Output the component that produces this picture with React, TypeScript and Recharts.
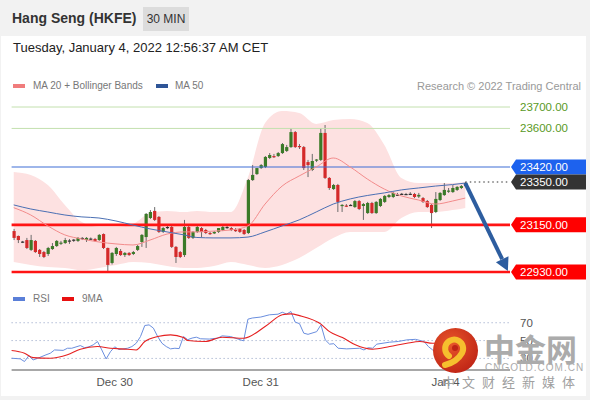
import React from 'react';
import { ComposedChart, Bar, Line, Area, XAxis, YAxis, ReferenceLine } from 'recharts';

// 30 min candles, Dec 29 night -> Jan 4
const OPEN = [
  23121, 23098, 23072, 23079, 23033, 23075, 23033, 23023, 23014, 23037, 23051, 23063, 23065, 23077, 23079, 23075, 23087, 23079, 23086, 23084, 23079, 23107, 23042, 22972, 23014, 23028, 23009,
  23019, 23014, 23033, 23070, 23093, 23182, 23215, 23187, 23117, 23137, 23140, 23047, 23023, 23009, 23140, 23089, 23117, 23135, 23126, 23112, 23110, 23117, 23126, 23140, 23135, 23126, 23131, 23126, 23112,
  23359, 23387, 23415, 23420, 23462, 23471, 23471, 23485, 23495,
  23513, 23583, 23518, 23513, 23443, 23406, 23450, 23453, 23579, 23369, 23317, 23336, 23238, 23240, 23243, 23233, 23261,
  23238, 23205, 23252, 23205, 23238, 23257, 23280, 23280, 23291, 23292, 23294, 23293, 23294, 23282, 23275, 23261, 23243, 23210, 23266, 23289, 23305, 23303, 23313, 23322, 23331,
];
const HIGH = [
  23131, 23100, 23075, 23089, 23103, 23079, 23037, 23028, 23047, 23065, 23079, 23075, 23089, 23084, 23084, 23093, 23093, 23093, 23091, 23089, 23107, 23110, 23044, 23023, 23047, 23037, 23023,
  23023, 23028, 23056, 23107, 23205, 23219, 23233, 23191, 23140, 23145, 23145, 23051, 23028, 23173, 23145, 23121, 23149, 23140, 23131, 23117, 23121, 23135, 23145, 23145, 23140, 23135, 23135, 23131, 23364,
  23429, 23415, 23434, 23471, 23485, 23481, 23490, 23532, 23523,
  23602, 23588, 23527, 23518, 23453, 23481, 23457, 23602, 23616, 23373, 23341, 23341, 23247, 23247, 23247, 23266, 23266,
  23252, 23257, 23257, 23261, 23275, 23289, 23294, 23303, 23299, 23299, 23299, 23303, 23299, 23299, 23280, 23266, 23247, 23303, 23303, 23345, 23322, 23336, 23331, 23336, 23350,
];
const LOW = [
  23079, 23065, 23065, 23037, 23028, 23019, 23000, 22995, 23005, 23033, 23047, 23056, 23061, 23061, 23070, 23070, 23079, 23070, 23079, 23072, 23075, 23037, 22930, 22965, 23005, 23005, 23000,
  23005, 23009, 23028, 23047, 23042, 23177, 23168, 23112, 23112, 23130, 23042, 22972, 22995, 23000, 23084, 23084, 23112, 23093, 23107, 23103, 23107, 23112, 23121, 23131, 23121, 23117, 23112, 23103, 23107,
  23355, 23383, 23411, 23415, 23457, 23462, 23467, 23481, 23490,
  23509, 23509, 23504, 23406, 23373, 23401, 23443, 23448, 23364, 23313, 23313, 23210, 23210, 23233, 23238, 23229, 23219,
  23173, 23201, 23201, 23201, 23233, 23252, 23275, 23275, 23285, 23289, 23289, 23289, 23275, 23275, 23252, 23229, 23135, 23205, 23261, 23285, 23299, 23299, 23308, 23317, 23327,
];
const CLOSE = [
  23089, 23079, 23070, 23042, 23079, 23023, 23014, 23000, 23042, 23051, 23075, 23067, 23079, 23075, 23081, 23089, 23089, 23089, 23084, 23075, 23103, 23042, 22963, 23019, 23042, 23009, 23019,
  23009, 23023, 23051, 23103, 23201, 23210, 23173, 23117, 23135, 23140, 23047, 23000, 23000, 23140, 23089, 23117, 23140, 23117, 23112, 23107, 23117, 23135, 23140, 23137, 23126, 23121, 23117, 23107, 23359,
  23383, 23415, 23429, 23467, 23476, 23467, 23485, 23527, 23513,
  23583, 23513, 23513, 23415, 23429, 23448, 23455, 23579, 23369, 23322, 23336, 23257, 23243, 23236, 23241, 23261, 23224,
  23247, 23252, 23205, 23257, 23271, 23285, 23289, 23299, 23289, 23295, 23292, 23295, 23280, 23290, 23257, 23233, 23205, 23271, 23299, 23313, 23310, 23322, 23327, 23331, 23345,
];

// moving averages / bollinger, read at these candle positions
const MA_IDX = [0, 4, 8, 12, 16, 20, 24, 28, 32, 36, 40, 43, 47, 51, 55, 59, 63, 67, 71, 75, 79, 83, 87, 91, 95, 99, 103, 106];
const MA20 = [23230, 23196, 23145, 23103, 23084, 23070, 23061, 23056, 23079, 23107, 23117, 23117, 23121, 23126, 23145, 23247, 23331, 23378, 23420, 23462, 23420, 23364, 23317, 23285, 23266, 23247, 23261, 23275];
const MA50 = [23243, 23224, 23210, 23196, 23187, 23182, 23168, 23149, 23131, 23117, 23103, 23091, 23089, 23089, 23093, 23117, 23145, 23173, 23210, 23247, 23271, 23287, 23299, 23313, 23322, 23331, 23338, 23345];
const BB_UP = [23397, 23383, 23336, 23243, 23163, 23140, 23140, 23154, 23205, 23215, 23210, 23215, 23210, 23210, 23373, 23625, 23681, 23672, 23621, 23639, 23644, 23625, 23523, 23369, 23345, 23345, 23345, 23350];
const BB_LO = [22977, 22963, 22953, 22949, 22939, 22949, 22963, 22977, 22972, 22958, 22949, 22949, 22958, 22977, 22963, 22949, 22963, 22995, 23042, 23089, 23117, 23117, 23117, 23182, 23210, 23210, 23219, 23229];

const RSI_IDX = [0, 2, 3, 4, 5, 6, 8, 9, 10, 12, 13, 14, 16, 17, 18, 19, 20, 21, 22, 23, 24, 25, 27, 28, 29, 30, 31, 32, 33, 34, 35, 36, 37, 38, 39, 40, 41, 42, 43, 44, 46, 48, 49, 51, 52, 54, 55, 56, 58, 60, 62, 63, 64, 65, 66, 67, 68, 69, 71, 72, 73, 74, 75, 76, 78, 81, 82, 83, 84, 85, 88, 90, 92, 94, 96, 97, 98, 99, 100, 101, 102, 104, 106];
const RSI = [30.2, 29.5, 26.5, 33, 28.3, 30, 34, 35.8, 39.5, 39, 41.4, 41.4, 44.4, 42, 43, 45.2, 48.9, 39.5, 29.4, 37.5, 43, 40, 41.4, 43.3, 47, 54.5, 66.9, 67.6, 64, 54.5, 47, 43.3, 40.7, 41.4, 41, 54.5, 51, 52.8, 53.8, 52, 51.7, 52.8, 55.3, 54.5, 52.8, 49.7, 74, 75.3, 76.4, 78.9, 79.6, 81.8, 79.7, 82.6, 70.7, 69, 58.3, 57, 60, 67.6, 50.8, 46, 46.5, 41.4, 40.7, 41.4, 39.5, 42, 41.4, 46, 48.2, 49, 50.8, 51.4, 49, 43.3, 39.5, 36, 47, 52, 55, 57, 60];
const MA9_IDX = [0, 3, 5, 9, 13, 16, 20, 23, 27, 29, 31, 34, 37, 40, 41, 45, 49, 54, 59, 63, 65, 67, 72, 74, 77, 80, 84, 88, 92, 95, 98, 102, 106];
const MA9 = [38.8, 35.8, 30.9, 30.2, 34, 40.3, 43.3, 41.4, 40.3, 39.5, 48.9, 54.5, 56.4, 53.4, 50, 48.9, 53.8, 52.6, 65.7, 78.9, 80, 78, 68.4, 60, 53.4, 45.2, 40.3, 43.3, 47, 48.9, 47, 49, 52];

const TICK_IDX = [24, 58, 101];
const TICK_LABELS = ['Dec 30', 'Dec 31', 'Jan 4'];

const LEVELS = [23700, 23600];
const RESIST = 23420;
const LAST = 23350;
const SUPPORTS = [23150, 22930];
const RSI_LEVELS = [70, 50, 30];

const SLOTS = 117;
const FONT = "'Liberation Sans', Arial, Helvetica, sans-serif";

const rows: any[] = Array.from({ length: SLOTS }, (_, i) => ({
  i,
  o: OPEN[i] ?? null,
  h: HIGH[i] ?? null,
  l: LOW[i] ?? null,
  c: CLOSE[i] ?? null,
}));
MA_IDX.forEach((idx, k) => {
  rows[idx].ma20 = MA20[k];
  rows[idx].ma50 = MA50[k];
  rows[idx].bu = BB_UP[k];
  rows[idx].bl = BB_LO[k];
});
RSI_IDX.forEach((idx, k) => { rows[idx].rsi = RSI[k]; });
MA9_IDX.forEach((idx, k) => { rows[idx].ma9 = MA9[k]; });

function Candle(props: any) {
  let { x, y, width, height } = props;
  const p = props.payload;
  if (!p || p.o == null) return null;
  if (height < 0) { y += height; height = -height; }
  const span = p.h - p.l || 1;
  const k = height / span;
  const cx = x + width / 2;
  const yO = y + (p.h - p.o) * k;
  const yC = y + (p.h - p.c) * k;
  const top = Math.min(yO, yC);
  const bh = Math.max(Math.abs(yO - yC), 1.2);
  const color = Math.abs(p.o - p.c) < 4 ? '#333' : p.c > p.o ? '#3b7a28' : '#d42a2a';
  return (
    <g>
      <line x1={cx} x2={cx} y1={y} y2={y + height} stroke="#6b6b6b" strokeWidth={1} />
      <rect x={cx - 1.6} y={top} width={3.2} height={bh} fill={color} />
    </g>
  );
}

function tag(bg: string, text: string) {
  return (props: any) => {
    const vb = props.viewBox || {};
    const r = vb.x + vb.width;
    const y = vb.y;
    return (
      <g>
        <polygon points={`${r + 1},${y} ${r + 6},${y - 7.5} ${r + 76},${y - 7.5} ${r + 76},${y + 7.5} ${r + 6},${y + 7.5}`} fill={bg} />
        <text x={r + 10} y={y + 4} fill="#fff" fontSize={11.5} fontFamily={FONT}>{text}</text>
      </g>
    );
  };
}

function plainLabel(color: string, text: string, dx: number) {
  return (props: any) => {
    const vb = props.viewBox || {};
    return (
      <text x={vb.x + vb.width + dx} y={vb.y + 4} fill={color} fontSize={11.5} fontFamily={FONT}>{text}</text>
    );
  };
}

function Arrow(props: any) {
  const { x1, y1, x2, y2 } = props;
  const a = Math.atan2(y2 - y1, x2 - x1);
  const hl = 13, hw = 7;
  const bx = x2 - hl * Math.cos(a), by = y2 - hl * Math.sin(a);
  const px = -Math.sin(a) * hw, py = Math.cos(a) * hw;
  return (
    <g>
      <line x1={x1} y1={y1} x2={bx} y2={by} stroke="#2d5d9f" strokeWidth={4} />
      <polygon points={`${x2},${y2} ${bx + px},${by + py} ${bx - px},${by - py}`} fill="#2d5d9f" />
    </g>
  );
}

const legendText: React.CSSProperties = { position: 'absolute', fontSize: 10, color: '#777', fontFamily: FONT, lineHeight: '12px' };

export default function App() {
  return (
    <div style={{ position: 'relative', width: 590, height: 400, background: '#f2f2f2', fontFamily: FONT, overflow: 'hidden' }}>
      <style>{'body{margin:0}'}</style>
      <div style={{ position: 'absolute', left: 1, top: 36, width: 585, height: 360, background: '#fff' }} />

      <div style={{ position: 'absolute', left: 12, top: 10, fontSize: 14, fontWeight: 'bold', color: '#333' }}>Hang Seng (HKFE)</div>
      <div style={{ position: 'absolute', left: 143, top: 7, width: 46, height: 24, background: '#dcdcdc', color: '#333', fontSize: 12, lineHeight: '24px', textAlign: 'center' }}>30 MIN</div>
      <div style={{ position: 'absolute', left: 13, top: 40, fontSize: 13, color: '#222' }}>Tuesday, January 4, 2022 12:56:37 AM CET</div>

      <div style={{ position: 'absolute', left: 13, top: 84, width: 12, height: 4, background: '#f07c7c' }} />
      <div style={{ ...legendText, left: 33, top: 80 }}>MA 20 + Bollinger Bands</div>
      <div style={{ position: 'absolute', left: 156, top: 84, width: 12, height: 4, background: '#2f5597' }} />
      <div style={{ ...legendText, left: 175, top: 80 }}>MA 50</div>
      <div style={{ ...legendText, fontSize: 11, right: 9, top: 80, color: '#999' }}>Research © 2022 Trading Central</div>

      <div style={{ position: 'absolute', left: 0, top: 90 }}>
        <ComposedChart width={590} height={200} data={rows} margin={{ top: 6.3, right: 80, bottom: 11.6, left: 11.6 }}>
          <XAxis dataKey="i" hide />
          <YAxis hide type="number" domain={[22900, 23750]} allowDataOverflow />
          <Area
            dataKey={(d: any) => (d.bu == null ? null : [d.bl, d.bu])}
            type="monotone"
            fill="#fde1e1"
            fillOpacity={1}
            stroke="none"
            connectNulls
            isAnimationActive={false}
          />
          {LEVELS.map((v) => (
            <ReferenceLine key={v} y={v} stroke="#c3e0ae" strokeWidth={1} label={plainLabel('#5a9a26', v.toFixed(2), 10)} />
          ))}
          <ReferenceLine y={RESIST} stroke="#3f6fd6" strokeWidth={1.2} label={tag('#1d62ee', RESIST.toFixed(2))} />
          <ReferenceLine y={LAST} stroke="none" label={tag('#333333', LAST.toFixed(2))} />
          {SUPPORTS.map((v) => (
            <ReferenceLine key={v} y={v} stroke="#ff1414" strokeWidth={2.6} label={tag('#ff0000', v.toFixed(2))} />
          ))}
          <Line dataKey="ma20" type="monotone" stroke="#f28b8b" strokeWidth={1} dot={false} connectNulls isAnimationActive={false} />
          <Line dataKey="ma50" type="monotone" stroke="#4a6fb3" strokeWidth={1} dot={false} connectNulls isAnimationActive={false} />
          <Bar dataKey={(d: any) => (d.o == null ? null : [d.l, d.h])} barSize={3} shape={Candle} isAnimationActive={false} />
          <ReferenceLine segment={[{ x: 106, y: LAST }, { x: 116, y: LAST }]} stroke="#333" strokeWidth={1.2} strokeDasharray="1.5 3" />
          <ReferenceLine segment={[{ x: 106, y: 23345 }, { x: 116, y: 22935 }]} shape={Arrow} />
        </ComposedChart>
      </div>

      <div style={{ position: 'absolute', left: 13, top: 297, width: 12, height: 4, background: '#5a7fd8' }} />
      <div style={{ ...legendText, left: 33, top: 293 }}>RSI</div>
      <div style={{ position: 'absolute', left: 62, top: 297, width: 12, height: 4, background: '#e81010' }} />
      <div style={{ ...legendText, left: 82, top: 293 }}>9MA</div>

      <div style={{ position: 'absolute', left: 0, top: 290 }}>
        <ComposedChart width={590} height={104} data={rows} margin={{ top: 6, right: 80, bottom: 0, left: 11.6 }}>
          <XAxis
            dataKey="i"
            height={24}
            ticks={TICK_IDX}
            interval={0}
            tickFormatter={(v: any) => TICK_LABELS[TICK_IDX.indexOf(Number(v))] ?? ''}
            axisLine={{ stroke: '#a8a8a8', strokeWidth: 2 }}
            tickLine={false}
            tick={{ fill: '#555', fontSize: 11.5, fontFamily: FONT }}
          />
          <YAxis hide type="number" domain={[17, 100]} allowDataOverflow />
          {RSI_LEVELS.map((v) => (
            <ReferenceLine key={v} y={v} stroke="#8c9cc0" strokeDasharray="1 3" label={plainLabel('#555', String(v), 10)} />
          ))}
          <Line dataKey="rsi" type="linear" stroke="#6a8ede" strokeWidth={1} dot={false} connectNulls isAnimationActive={false} />
          <Line dataKey="ma9" type="monotone" stroke="#e52020" strokeWidth={1.1} dot={false} connectNulls isAnimationActive={false} />
        </ComposedChart>
      </div>

      <svg width={590} height={400} style={{ position: 'absolute', left: 0, top: 0, pointerEvents: 'none' }}>
        <defs>
          <radialGradient id="wm" cx="40%" cy="35%" r="70%">
            <stop offset="0%" stopColor="#e8562a" />
            <stop offset="100%" stopColor="#bf2416" />
          </radialGradient>
        </defs>
        <circle cx={455.5} cy={350.5} r={22.5} fill="url(#wm)" />
        <path d="M449 356 a9 9 0 1 1 13 -3 q-5 9 -17 12" stroke="#f6bf2e" strokeWidth={6} fill="none" strokeLinecap="round" />
        <circle cx={455} cy={348} r={3} fill="#bf2416" />
        <text x={484} y={361} fontSize={31} fontWeight="bold" fill="#ababab" fontFamily="'Noto Sans CJK SC'">中金网</text>
        <text x={485} y={371} fontSize={10} fill="#ababab" letterSpacing={1} fontFamily={FONT}>CNGOLD.COM.CN</text>
        <text x={442} y={387} fontSize={13} fill="#a0a0a0" letterSpacing={7} fontFamily="'Noto Sans CJK SC'">中文财经新媒体</text>
      </svg>
    </div>
  );
}
